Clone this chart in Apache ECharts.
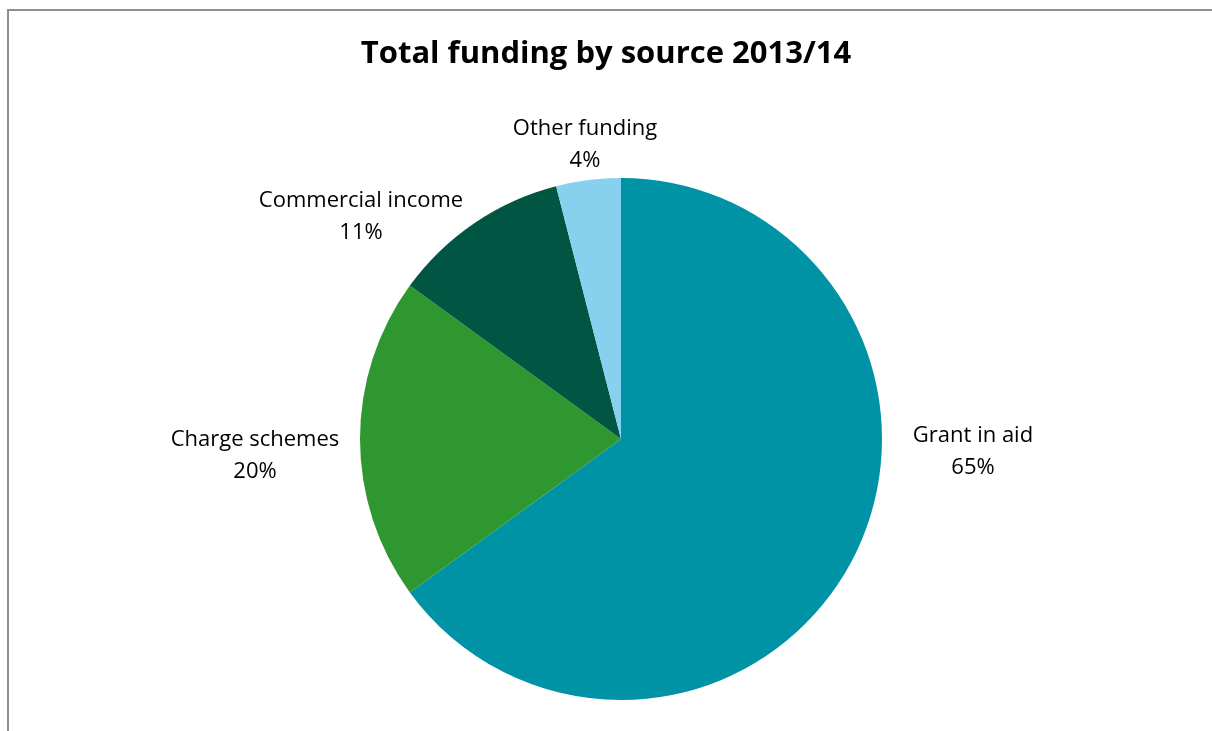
<!DOCTYPE html>
<html>
<head>
<meta charset="utf-8">
<script src="https://cdn.jsdelivr.net/npm/echarts@6/dist/echarts.min.js"></script>
<style>
html,body{margin:0;padding:0;background:#fff;overflow:hidden;}
#chart{position:absolute;left:0;top:0;width:1212px;height:731px;}
#frame{position:absolute;left:7px;top:9px;width:1230px;height:760px;border:2px solid #8e8e8e;pointer-events:none;box-sizing:border-box;}
</style>
</head>
<body>
<div id="chart"></div>
<div id="frame"></div>
<script>
var categories = ['Grant in aid', 'Charge schemes', 'Commercial income', 'Other funding'];
var values = [65, 20, 11, 4];
var colors = ['#0093A6', '#2F972F', '#005543', '#87D1EF'];
// label centre offsets from pie centre (px)
var labelOffsets = [[352, 13], [-366, 17], [-260, -222], [-36, -294]];

var cx = 621, cy = 439;
var chart = echarts.init(document.getElementById('chart'));
chart.setOption({
  animation: false,
  title: {
    text: 'Total funding by source 2013/14',
    left: 'center',
    top: 34,
    textStyle: {fontFamily: 'Open Sans', fontWeight: 'bold', fontSize: 31, color: '#000'}
  },
  series: [{
    type: 'pie',
    center: [cx, cy],
    radius: 261,
    startAngle: 90,
    clockwise: true,
    itemStyle: {borderWidth: 0},
    label: {
      show: true,
      position: 'outside',
      formatter: function (p) { return p.name + '\n' + Math.round(p.percent) + '%'; },
      fontFamily: 'Open Sans',
      fontSize: 22,
      lineHeight: 32,
      color: '#000',
      align: 'center'
    },
    labelLine: {show: false},
    labelLayout: function (p) {
      var o = labelOffsets[p.dataIndex];
      return {x: cx + o[0], y: cy + o[1], align: 'center', verticalAlign: 'middle'};
    },
    data: categories.map(function (c, i) {
      return {name: c, value: values[i], itemStyle: {color: colors[i]}};
    })
  }]
});
</script>
</body>
</html>
